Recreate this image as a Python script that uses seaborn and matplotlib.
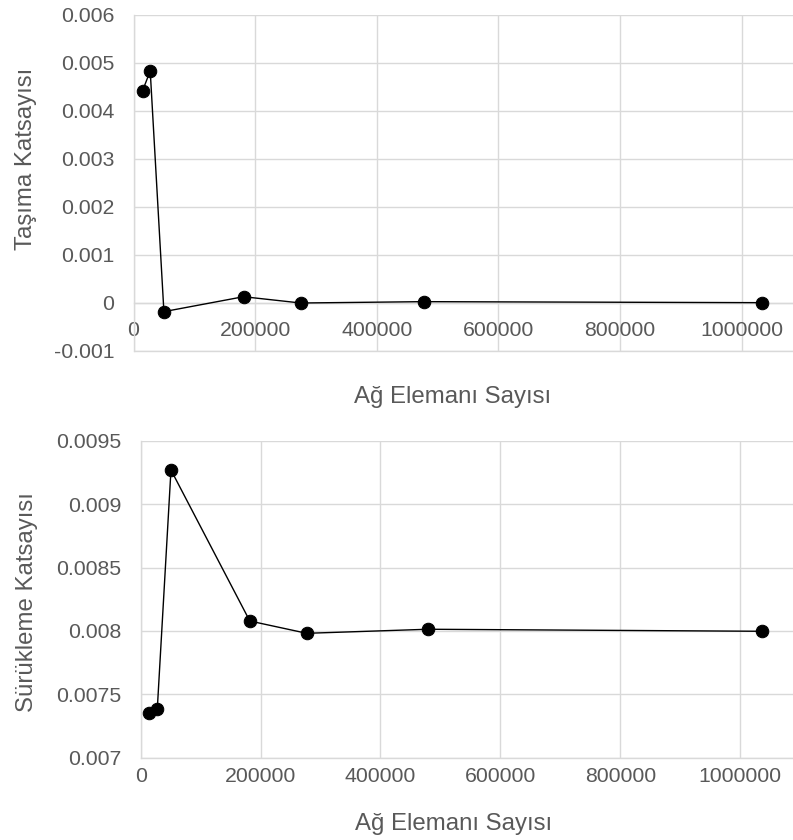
import matplotlib
matplotlib.use("Agg")
import matplotlib.pyplot as plt
import seaborn as sns
import pandas as pd
from matplotlib.ticker import FuncFormatter, MultipleLocator

# Data
ag_eleman_tasima = [15000, 27500, 50000, 181000, 275000, 477000, 1034000]
tasima_katsayisi = [0.004425, 0.004834, -0.00018, 0.000131, 0.0, 0.000028, 0.000007]

ag_eleman_surukleme = [14500, 27700, 50500, 182000, 277000, 479000, 1036000]
surukleme_katsayisi = [0.00735, 0.007386, 0.009269, 0.008078, 0.007981, 0.008013, 0.007997]

x_label = "Ağ Elemanı Sayısı"
y_label_top = "Taşıma Katsayısı"
y_label_bottom = "Sürükleme Katsayısı"

sns.set_style("whitegrid", {"grid.color": "#d9d9d9", "axes.edgecolor": "#d9d9d9"})
plt.rcParams["font.family"] = ["Liberation Sans", "DejaVu Sans"]

TXT = "#595959"
GRID = "#d9d9d9"
TICK_FS = 15.3
LABEL_FS = 17.3

fig = plt.figure(figsize=(7.93, 8.4), dpi=100)

ax1 = fig.add_axes([133.5 / 793, (840 - 351) / 840, (793 - 133.5) / 793, 336 / 840])
ax2 = fig.add_axes([140.7 / 793, (840 - 757.7) / 840, (793 - 140.7) / 793, 317 / 840])

df1 = pd.DataFrame({"x": ag_eleman_tasima, "y": tasima_katsayisi})
df2 = pd.DataFrame({"x": ag_eleman_surukleme, "y": surukleme_katsayisi})

for ax, df in ((ax1, df1), (ax2, df2)):
    sns.lineplot(data=df, x="x", y="y", ax=ax, color="black", linewidth=1.0,
                 marker="o", markersize=9, markeredgecolor="black",
                 markerfacecolor="black", sort=False, estimator=None, zorder=5)

def yfmt(v, pos):
    s = f"{v:.4f}".rstrip("0").rstrip(".")
    if s in ("-0", "0"):
        return "0"
    return s

def xfmt(v, pos):
    return f"{int(round(v))}"

# Top axes
ax1.set_xlim(0, 1084700)
ax1.set_ylim(-0.001, 0.006)
ax1.yaxis.set_major_locator(MultipleLocator(0.001))
ax1.xaxis.set_major_locator(MultipleLocator(200000))
ax1.spines["bottom"].set_position(("data", 0))
ax1.tick_params(axis="x", pad=13)
ax1.axhline(ax1.get_ylim()[0], color=GRID, linewidth=1.0, clip_on=False, zorder=0)

# Bottom axes
ax2.set_xlim(0, 1088100)
ax2.set_ylim(0.007, 0.0095)
ax2.yaxis.set_major_locator(MultipleLocator(0.0005))
ax2.xaxis.set_major_locator(MultipleLocator(200000))
ax2.tick_params(axis="x", pad=7)

for ax in (ax1, ax2):
    ax.yaxis.set_major_formatter(FuncFormatter(yfmt))
    ax.xaxis.set_major_formatter(FuncFormatter(xfmt))
    ax.tick_params(axis="both", length=0, labelsize=TICK_FS, labelcolor=TXT)
    ax.tick_params(axis="y", pad=14)
    ax.grid(True, color=GRID, linewidth=1.0)
    for s in ("top", "right"):
        ax.spines[s].set_visible(False)
    for s in ("left", "bottom"):
        ax.spines[s].set_color(GRID)
        ax.spines[s].set_linewidth(1.0)
    ax.set_axisbelow(True)
    ax.set_xlabel(x_label, fontsize=LABEL_FS, color=TXT)

ax1.set_ylabel(y_label_top, fontsize=LABEL_FS, color=TXT)
ax2.set_ylabel(y_label_bottom, fontsize=LABEL_FS, color=TXT)

ax1.xaxis.set_label_coords(0.484, -0.105)
ax2.xaxis.set_label_coords(0.479, -0.176)
ax1.yaxis.set_label_coords(-0.146, 0.573)
ax2.yaxis.set_label_coords(-0.158, 0.49)

fig.savefig("out.png", dpi=100)
